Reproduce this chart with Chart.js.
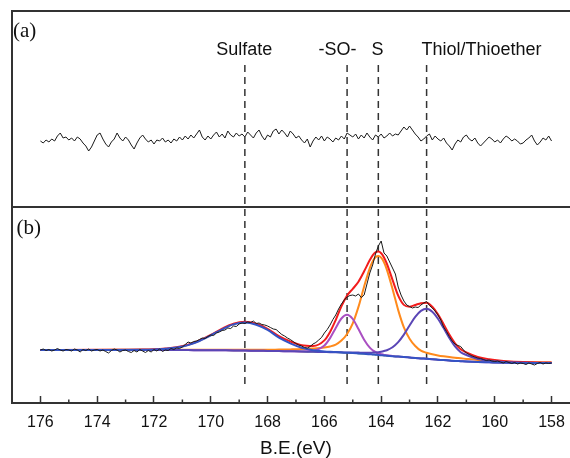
<!DOCTYPE html>
<html>
<head>
<meta charset="utf-8">
<title>S 2p XPS</title>
<script src="https://cdn.jsdelivr.net/npm/chart.js@4.4.1/dist/chart.umd.min.js"></script>
<style>
  html, body { margin: 0; padding: 0; background: #fff; overflow: hidden; }
  #wrap { position: relative; width: 582px; height: 458px; }
</style>
</head>
<body>
<div id="wrap"><canvas id="xps" width="582" height="458"></canvas></div>
<script>
// measured energies (eV), shared by both raw spectra
const rawE = [
  176.0,175.9,175.8,175.7,175.6,175.5,175.4,175.3,175.2,175.1,
  175.0,174.9,174.8,174.7,174.6,174.5,174.4,174.3,174.2,174.1,
  174.0,173.9,173.8,173.7,173.6,173.5,173.4,173.3,173.2,173.1,
  173.0,172.9,172.8,172.7,172.6,172.5,172.4,172.3,172.2,172.1,
  172.0,171.9,171.8,171.7,171.6,171.5,171.4,171.3,171.2,171.1,
  171.0,170.9,170.8,170.7,170.6,170.5,170.4,170.3,170.2,170.1,
  170.0,169.9,169.8,169.7,169.6,169.5,169.4,169.3,169.2,169.1,
  169.0,168.9,168.8,168.7,168.6,168.5,168.4,168.3,168.2,168.1,
  168.0,167.9,167.8,167.7,167.6,167.5,167.4,167.3,167.2,167.1,
  167.0,166.9,166.8,166.7,166.6,166.5,166.4,166.3,166.2,166.1,
  166.0,165.9,165.8,165.7,165.6,165.5,165.4,165.3,165.2,165.1,
  165.0,164.9,164.8,164.7,164.6,164.5,164.4,164.3,164.2,164.1,
  164.0,163.9,163.8,163.7,163.6,163.5,163.4,163.3,163.2,163.1,
  163.0,162.9,162.8,162.7,162.6,162.5,162.4,162.3,162.2,162.1,
  162.0,161.9,161.8,161.7,161.6,161.5,161.4,161.3,161.2,161.1,
  161.0,160.9,160.8,160.7,160.6,160.5,160.4,160.3,160.2,160.1,
  160.0,159.9,159.8,159.7,159.6,159.5,159.4,159.3,159.2,159.1,
  159.0,158.9,158.8,158.7,158.6,158.5,158.4,158.3,158.2,158.1,
  158.0
];

// panel (a) - flat spectrum
const rawA = [
  66,64,67,65,68,66,71,74,69,70,
  67,69,66,70,68,64,61,56,60,66,
  72,74,68,63,60,65,68,74,69,66,
  70,67,62,58,64,69,72,68,65,67,
  63,67,66,69,65,67,64,68,66,70,
  67,71,68,72,69,73,77,70,67,71,
  68,72,75,70,73,69,76,72,70,74,
  71,73,70,75,72,69,74,77,71,67,
  72,70,76,78,73,77,74,70,76,73,
  69,71,67,64,68,60,66,70,67,71,
  66,70,68,65,69,67,71,68,74,72,
  70,73,68,72,69,74,70,67,72,70,
  73,69,71,74,71,73,72,76,80,77,
  81,77,73,70,66,68,71,73,67,71,
  68,66,69,64,61,57,63,67,65,70,
  72,68,66,69,64,61,64,67,70,68,
  65,67,64,68,71,69,66,68,66,63,
  64,67,69,72,66,62,65,69,67,71,
  66
];

// panel (b) - measured S 2p spectrum
const rawB = [
  53,54,52.5,53.5,52,53,54.5,53,52,53.5,
  53,52,54,53,51,53.5,52.5,54,52,53,
  53.5,52,53,51.5,50,52.5,54,53,51,52.5,
  53,51.5,50.5,52.5,51,53.5,52,50.5,52.5,51,
  53.5,52,54,51.5,53,52.5,54.5,53.5,55,54.5,
  56,58.5,61,60,61.5,62,63.5,65,64.5,66.5,
  68,67.5,70,71,72.5,73,75,74.5,77,76.5,
  79,80,79.5,81,80.5,82,79.5,80,78.5,78,
  77,75.5,74,73.5,71,68.5,67,65,63.5,61.5,
  59.5,58,57,55.5,55,56.5,59,60.5,63,65.5,
  70,73.5,78,83.5,88,94,99,103,106,107.5,
  108,107,109,105.5,108,119,130,138,149,157,
  162,150,147,141,135,129,116,108,102,98,
  96.5,95,96,95.5,98,100,101.5,97.5,95,92,
  88,83,76,71.5,66.5,62,59,57.5,56.5,53,
  50,48.5,47,46,45,44.5,43.5,42.5,43,42,
  41.5,42,41,40,41.5,40.5,39.5,40.5,39,40,
  39.5,38.5,40,39,38,39.5,40.5,39,40,39.5,
  40
];

// fitted curves, sampled at these energies
const fitE = [
  176,174,172.4,172,171.6,171.2,170.8,170.4,170,169.6,169.2,168.8,168.4,168,167.6,167.2,166.8,166.4,166,
  165.8,165.6,165.4,165.2,165,164.8,164.6,164.4,164.3,164.2,164.1,164,163.9,163.8,
  163.6,163.4,163.2,163,162.8,162.6,162.4,162.2,162,161.8,161.6,161.4,161.2,161,
  160.6,160.2,159.6,159,158
];
const bgY = [
  53.0,53.0,53.0,53.0,52.9,52.9,52.9,52.8,52.8,52.7,52.6,52.4,52.3,52.1,51.9,51.7,51.5,51.2,51.0,
  50.8,50.7,50.5,50.2,50.0,49.6,49.2,48.8,48.5,48.3,48.0,47.8,47.6,47.3,
  46.8,46.4,45.9,45.5,45.1,44.6,44.2,43.7,43.3,42.9,42.5,42.1,41.8,41.5,
  41.0,40.7,40.3,40.1,40.0
];
const sulfateY = [
  53.0,53.1,53.3,53.6,54.2,55.4,57.9,62.0,67.6,73.7,78.6,80.4,78.3,73.1,65.4,59.7,55.3,52.8,51.6,
  51.2,50.9,50.6,50.3,50.0,49.6,49.2,48.8,48.5,48.3,48.0,47.8,47.6,47.3,
  46.8,46.4,45.9,45.5,45.1,44.6,44.2,43.7,43.3,42.9,42.5,42.1,41.8,41.5,
  41.0,40.7,40.3,40.1,40.0
];
const soY = [
  53.0,53.0,53.0,53.0,52.9,52.9,52.9,52.8,52.8,52.7,52.6,52.4,52.3,52.1,51.9,51.7,51.6,52.2,57.5,
  64.9,75.0,84.5,88.2,84.0,73.9,63.3,55.3,52.7,51.0,49.6,48.8,48.1,47.7,
  46.9,46.4,45.9,45.5,45.1,44.6,44.2,43.7,43.3,42.9,42.5,42.1,41.8,41.5,
  41.0,40.7,40.3,40.1,40.0
];
const sY = [
  53.0,53.1,53.2,53.2,53.2,53.2,53.3,53.3,53.3,53.3,53.3,53.2,53.3,53.2,53.4,53.6,53.9,54.5,55.5,
  56.5,58.4,62.4,69.0,79.7,96.1,116.5,134.9,141.6,145.8,147.0,145.3,140.7,133.4,
  114.1,92.9,75.6,64.3,57.0,52.3,50.2,48.7,47.6,46.7,45.9,45.2,44.7,44.1,
  43.0,42.2,41.3,40.8,40.5
];
const thiolY = [
  53.0,53.0,53.0,53.0,52.9,52.9,52.9,52.8,52.8,52.7,52.6,52.4,52.3,52.1,51.9,51.7,51.5,51.2,51.0,
  50.8,50.8,50.7,50.5,50.5,50.4,50.3,50.3,50.4,50.5,50.8,51.3,52.0,52.8,
  55.8,60.9,68.4,77.5,86.1,92.1,94.2,91.2,84.3,74.9,65.0,56.6,50.8,48.0,
  44.0,42.2,40.8,40.2,40.0
];
const envelopeY = [
  53.0,53.2,53.5,53.8,54.5,55.7,58.2,62.5,68.1,74.3,79.3,81.2,79.2,74.2,66.9,61.6,57.8,57.1,62.6,
  71.0,83.0,96.7,107.4,114.2,121.2,131.7,142.9,147.7,150.7,151.4,149.8,145.6,139.3,
  123.2,107.4,98.1,96.3,98.0,99.8,100.2,96.2,88.6,78.7,68.4,59.7,53.7,50.6,
  46.0,43.7,41.8,40.9,40.5
];

const xTicks = [176, 174, 172, 170, 168, 166, 164, 162, 160, 158];
const xMinor = [175, 173, 171, 169, 167, 165, 163, 161, 159];

const peakE = [168.8, 165.2, 164.1, 162.4];
const peakNames = ['Sulfate', '-SO-', 'S', 'Thiol/Thioether'];
const peakNameE = [168.82, 165.54, 164.13, 160.47];

const SANS = '"Liberation Sans", Arial, Helvetica, sans-serif';
const SERIF = '"Liberation Serif", "Times New Roman", serif';

const pts = (xs, ys) => xs.map((x, i) => ({ x: x, y: ys[i] }));

function line(label, xs, ys, color, width, axis, smooth) {
    return {
        label: label,
        data: pts(xs, ys),
        yAxisID: axis,
        borderColor: color,
        borderWidth: width,
        pointRadius: 0,
        fill: false,
        tension: 0,
        cubicInterpolationMode: smooth ? 'monotone' : 'default'
    };
}

// dashed guide lines, minor ticks and the labels
const decor = {
    id: 'decor',
    beforeDatasetsDraw(chart) {
        const { ctx, scales: { x, ya, yb } } = chart;
        const top = ya.getPixelForValue(142);
        const bot = yb.getPixelForValue(19);
        ctx.save();
        ctx.strokeStyle = '#333';
        ctx.lineWidth = 1.5;
        ctx.setLineDash([7, 5]);
        peakE.forEach(e => {
            const px = x.getPixelForValue(e);
            ctx.beginPath();
            ctx.moveTo(px, top);
            ctx.lineTo(px, bot);
            ctx.stroke();
        });
        ctx.restore();
    },
    afterDraw(chart) {
        const { ctx, scales: { x, ya, yb } } = chart;
        ctx.save();
        ctx.strokeStyle = '#333';
        ctx.lineWidth = 1.5;
        xMinor.forEach(v => {
            const px = x.getPixelForValue(v);
            ctx.beginPath();
            ctx.moveTo(px, x.top);
            ctx.lineTo(px, x.top - 3.5);
            ctx.stroke();
        });

        ctx.fillStyle = '#111';
        ctx.font = '18px ' + SANS;
        ctx.textAlign = 'center';
        ctx.textBaseline = 'alphabetic';
        peakNames.forEach((t, i) => ctx.fillText(t, x.getPixelForValue(peakNameE[i]), 55));

        ctx.font = '21px ' + SERIF;
        ctx.textAlign = 'left';
        ctx.textBaseline = 'middle';
        ctx.fillText('(a)', 13, 31);
        ctx.fillText('(b)', 16.5, 228);
        ctx.restore();
    }
};

const onlyTop = s => { s.ticks = [{ value: s.max }]; };

new Chart(document.getElementById('xps'), {
    type: 'line',
    data: {
        datasets: [
            line('(a)', rawE, rawA, '#1a1a1a', 1, 'ya', false),
            line('raw', rawE, rawB, '#1a1a1a', 1, 'yb', false),
            line('Sulfate', fitE, sulfateY, '#3553c4', 2, 'yb', true),
            line('Thiol/Thioether', fitE, thiolY, '#5a46b6', 2, 'yb', true),
            line('Envelope', fitE, envelopeY, '#f21c1c', 2, 'yb', true),
            line('-SO-', fitE, soY, '#aa4fc2', 2, 'yb', true),
            line('S', fitE, sY, '#ff8a1c', 2, 'yb', true),
            line('Background', fitE, bgY, '#3fae46', 1.5, 'yb', true)
        ]
    },
    options: {
        responsive: false,
        animation: false,
        devicePixelRatio: 1,
        layout: { padding: { left: 12, right: 2, top: 11, bottom: 0 } },
        plugins: { legend: { display: false }, tooltip: { enabled: false } },
        scales: {
            x: {
                type: 'linear',
                reverse: true,
                min: 157,
                max: 177,
                position: 'bottom',
                afterBuildTicks: s => { s.ticks = xTicks.map(v => ({ value: v })); },
                afterFit: s => { s.height = 55; },
                ticks: { font: { family: SANS, size: 16 }, color: '#111', padding: 17, maxRotation: 0, autoSkip: false },
                grid: { drawOnChartArea: false, tickLength: -7, tickWidth: 1.5, tickColor: '#333' },
                border: { color: '#333', width: 2 },
                title: { display: true, text: 'B.E.(eV)', color: '#111', font: { family: SANS, size: 19, lineHeight: 1 }, padding: { top: 0, bottom: 0 } }
            },
            yb: {
                type: 'linear', position: 'left', stack: 'panels', stackWeight: 1,
                min: 0, max: 196,
                afterBuildTicks: onlyTop,
                ticks: { display: false },
                grid: { drawTicks: false, color: '#333', lineWidth: 2 },
                border: { color: '#333', width: 2 }
            },
            ya: {
                type: 'linear', position: 'left', stack: 'panels', stackWeight: 1,
                min: 0, max: 196,
                afterBuildTicks: onlyTop,
                ticks: { display: false },
                grid: { drawTicks: false, color: '#333', lineWidth: 2 },
                border: { color: '#333', width: 2 }
            }
        }
    },
    plugins: [decor]
});
</script>
</body>
</html>
